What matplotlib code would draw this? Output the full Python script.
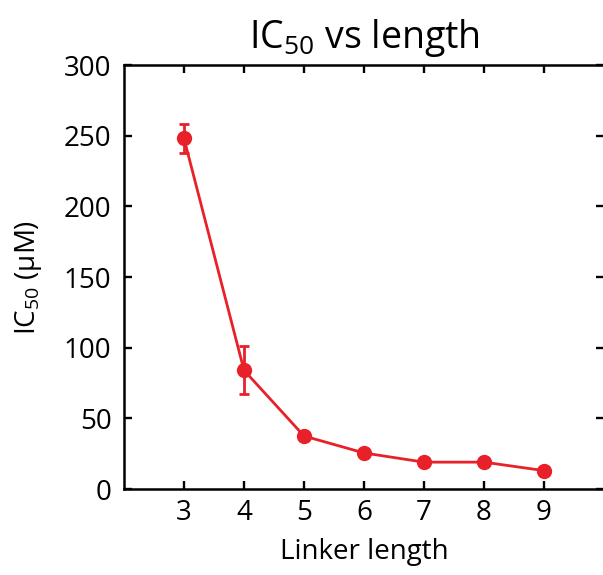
import matplotlib
matplotlib.use("Agg")
import matplotlib.pyplot as plt

linker_length = [3, 4, 5, 6, 7, 8, 9]
ic50 = [248, 84, 37.5, 25.5, 19, 19, 13]
ic50_err = [10, 17, 0, 0, 0, 0, 0]

plt.rcParams['font.family'] = ['Open Sans', 'DejaVu Sans']
plt.rcParams['mathtext.fontset'] = 'custom'
plt.rcParams['mathtext.rm'] = 'Open Sans'
plt.rcParams['mathtext.it'] = 'Open Sans:italic'
plt.rcParams['mathtext.bf'] = 'Open Sans:bold'

fig = plt.figure(figsize=(6.03, 5.75), dpi=100)
ax = fig.add_axes([124/603, 1-489/575, (604-124)/603, (489-65)/575])

red = '#e8202a'
ax.errorbar(linker_length, ic50, yerr=ic50_err, color=red, marker='o', markersize=10,
            linewidth=2.0, capsize=3.5, elinewidth=2.0, capthick=2.0)

ax.set_xlim(2, 10)
ax.set_ylim(0, 300)
ax.set_xticks(linker_length)
ax.set_yticks([0, 50, 100, 150, 200, 250, 300])
ax.tick_params(direction='in', top=True, right=True, labelsize=20, length=6, width=1.7)
ax.tick_params(axis='y', pad=9)
ax.tick_params(axis='x', pad=7)
for s in ax.spines.values():
    s.set_linewidth(1.8)

ax.set_title('IC$_{\\mathrm{50}}$ vs length', fontsize=27, pad=12)
ax.set_xlabel('Linker length', fontsize=20, labelpad=8)
ax.set_ylabel('IC$_{\\mathrm{50}}$ (μM)', fontsize=20, labelpad=14)

fig.savefig('out.png', dpi=100)
